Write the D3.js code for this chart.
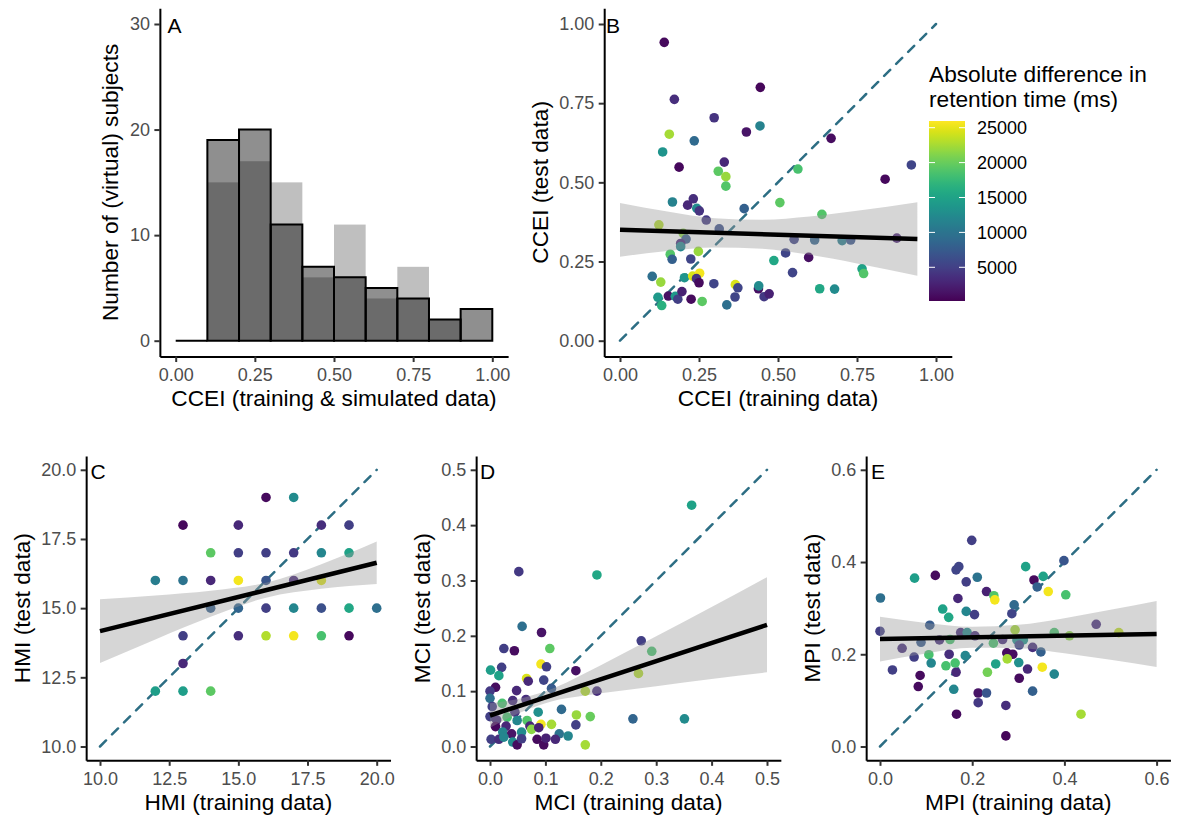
<!DOCTYPE html>
<html>
<head>
<meta charset="utf-8">
<script src="https://cdn.jsdelivr.net/npm/d3@7"></script>
<style>
  body { margin: 0; background: #fff; }
  svg text { font-family: "Liberation Sans", Arial, Helvetica, sans-serif; }
</style>
</head>
<body>
<svg id="fig" width="1177" height="818"></svg>
<script>
// ---------------- data ----------------
// Histogram (panel A): 0.1-wide CCEI bins
const binStarts = [0.0, 0.1, 0.2, 0.3, 0.4, 0.5, 0.6, 0.7, 0.8, 0.9];
const binWidth = 0.1;
const trainingCounts = [0, 19, 20, 11, 7, 6, 5, 4, 2, 3];
const simulatedCounts = [0, 15, 17, 15, 6, 11, 4, 7, 2, 0];

// Scatter panels: [training, test, absolute RT difference (ms)]
const cceiPoints = [
  [0.140,0.942,800],[0.444,0.800,600],[0.172,0.762,3500],[0.298,0.704,4000],
  [0.443,0.678,11500],[0.400,0.659,1500],[0.668,0.639,1000],[0.156,0.652,22500],
  [0.235,0.631,9000],[0.135,0.596,13500],[0.187,0.548,700],[0.330,0.564,3000],
  [0.311,0.535,19500],[0.335,0.518,22000],[0.335,0.488,19000],[0.563,0.542,18500],
  [0.922,0.555,5500],[0.839,0.510,700],[0.166,0.438,11500],[0.232,0.448,3500],
  [0.214,0.428,3000],[0.243,0.418,12500],[0.251,0.410,4000],[0.393,0.417,8000],
  [0.506,0.436,19500],[0.639,0.399,19000],[0.273,0.381,4500],[0.123,0.366,23000],
  [0.314,0.353,6500],[0.200,0.339,21500],[0.209,0.321,7500],[0.192,0.307,3000],
  [0.192,0.297,12000],[0.551,0.320,5500],[0.616,0.318,8500],[0.703,0.316,11000],
  [0.730,0.318,7000],[0.876,0.324,2500],[0.248,0.282,22000],[0.159,0.273,19000],
  [0.165,0.257,8000],[0.224,0.258,5500],[0.524,0.277,5500],[0.597,0.263,1200],
  [0.487,0.253,15500],[0.546,0.215,5500],[0.766,0.227,15000],[0.771,0.212,19000],
  [0.102,0.203,9500],[0.204,0.199,13500],[0.230,0.204,24500],[0.252,0.213,25500],
  [0.242,0.196,4000],[0.250,0.183,900],[0.129,0.185,22000],[0.297,0.180,5500],
  [0.365,0.177,24500],[0.373,0.167,5500],[0.438,0.164,1200],[0.439,0.173,12500],
  [0.456,0.139,4500],[0.472,0.148,2500],[0.632,0.164,15500],[0.679,0.163,12500],
  [0.120,0.137,14000],[0.153,0.141,1200],[0.175,0.140,14000],[0.183,0.131,5000],
  [0.196,0.155,2500],[0.225,0.131,800],[0.260,0.124,19500],[0.132,0.111,16500],
  [0.338,0.113,9500],[0.364,0.138,5500]
];

const hmiPoints = [
  [16,19,800],[17,19,12500],
  [13,18,700],[15,18,3000],[18,18,3500],[19,18,5000],
  [14,17,19500],[15,17,5000],[16,17,5000],[17,17,4500],[18,17,12000],[19,17,15000],
  [12,16,11000],[13,16,10000],[14,16,3000],[15,16,25500],[16,16,7000],[17,16,3000],[18,16,24500],
  [14,15,8000],[15,15,8500],[16,15,5000],[17,15,12000],[18,15,6500],[19,15,15500],[20,15,9500],
  [13,14,5000],[15,14,3500],[16,14,23000],[17,14,25500],[18,14,18500],[19,14,700],
  [13,13,3000],
  [12,12,14500],[13,12,14500],[14,12,19500]
];

const mciPoints = [
  [0.364,0.436,15000],[0.052,0.316,4500],[0.193,0.310,15500],[0.058,0.217,9500],
  [0.093,0.206,1500],[0.273,0.191,5000],[0.292,0.172,18500],[0.025,0.177,5000],
  [0.044,0.173,1000],[0.108,0.177,19500],[0.001,0.138,14500],[0.021,0.143,5000],
  [0.016,0.128,15000],[0.092,0.149,25500],[0.102,0.144,5000],[0.155,0.137,1200],
  [0.268,0.132,23000],[0.066,0.123,24500],[0.069,0.118,3000],[0.097,0.120,5500],
  [0.010,0.107,1000],[0.000,0.100,4500],[0.048,0.101,3000],[0.111,0.105,7500],
  [0.172,0.100,23000],[0.193,0.100,3500],[0.000,0.087,9500],[0.022,0.078,18500],
  [0.041,0.083,3500],[0.065,0.085,3500],[0.004,0.072,5000],[0.129,0.067,9000],
  [0.087,0.062,13000],[0.156,0.057,22000],[0.181,0.054,20000],[0.258,0.050,8500],
  [0.351,0.050,12500],[0.000,0.054,5000],[0.031,0.053,18500],[0.045,0.062,4000],
  [0.012,0.048,3500],[0.049,0.047,12000],[0.067,0.047,19000],[0.010,0.036,700],
  [0.029,0.037,3000],[0.072,0.037,3000],[0.075,0.031,21500],[0.092,0.040,25500],
  [0.111,0.040,22500],[0.155,0.039,5000],[0.088,0.034,2500],[0.023,0.026,12000],
  [0.039,0.023,1500],[0.057,0.026,12500],[0.125,0.023,10000],[0.141,0.019,12000],
  [0.002,0.013,5000],[0.016,0.013,3500],[0.025,0.017,12000],[0.041,0.008,12500],
  [0.049,0.003,900],[0.057,0.014,5000],[0.085,0.013,900],[0.097,0.003,900],
  [0.101,0.015,2500],[0.118,0.013,3000],[0.172,0.003,22500]
];

const mpiPoints = [
  [0.199,0.447,5000],[0.399,0.403,7000],[0.316,0.390,15000],[0.171,0.390,5500],
  [0.165,0.383,5500],[0.075,0.365,14500],[0.120,0.371,900],[0.211,0.367,10000],
  [0.187,0.357,5000],[0.354,0.369,15000],[0.334,0.361,800],[0.341,0.346,8000],
  [0.001,0.322,9500],[0.231,0.336,2500],[0.247,0.327,19000],[0.249,0.318,25500],
  [0.365,0.336,25500],[0.403,0.329,18500],[0.169,0.321,3000],[0.291,0.307,9000],
  [0.136,0.298,15000],[0.149,0.280,15500],[0.187,0.293,12000],[0.205,0.286,5000],
  [0.286,0.288,5500],[0.108,0.263,7500],[0.469,0.265,3500],[0.000,0.250,5000],
  [0.175,0.247,3500],[0.189,0.247,12500],[0.206,0.240,3500],[0.293,0.253,22500],
  [0.378,0.247,18500],[0.411,0.240,21500],[0.518,0.247,23500],[0.048,0.213,3500],
  [0.089,0.226,7500],[0.129,0.231,3500],[0.152,0.232,18500],[0.246,0.224,18500],
  [0.266,0.232,3500],[0.297,0.231,13000],[0.311,0.231,13500],[0.302,0.220,5500],
  [0.331,0.215,3500],[0.349,0.205,8000],[0.074,0.194,5000],[0.106,0.199,18500],
  [0.150,0.200,3500],[0.185,0.197,12000],[0.275,0.203,1000],[0.288,0.200,1000],
  [0.111,0.181,12000],[0.143,0.175,18500],[0.163,0.181,18500],[0.276,0.190,22500],
  [0.251,0.179,15000],[0.301,0.182,13000],[0.027,0.166,5000],[0.165,0.161,3000],
  [0.233,0.161,20500],[0.320,0.168,3000],[0.352,0.172,25500],[0.378,0.157,12000],
  [0.087,0.154,900],[0.302,0.148,900],[0.083,0.130,900],[0.160,0.124,12000],
  [0.213,0.116,1500],[0.231,0.116,7000],[0.331,0.120,8000],[0.213,0.095,4500],
  [0.273,0.089,3500],[0.166,0.070,900],[0.436,0.070,22500],[0.273,0.023,500]
];

// Linear fits: endpoints of the fitted line, and the 95% band [x, lower, upper]
const fitB = [[0, 0.350], [0.941, 0.321]];
const bandB = [[0,0.265,0.435],[0.15,0.283,0.408],[0.3,0.294,0.387],[0.45,0.290,0.382],
               [0.6,0.271,0.392],[0.75,0.244,0.410],[0.941,0.205,0.437]];
const fitC = [[10, 14.17], [20, 16.64]];
const bandC = [[10,13.02,15.32],[12,13.87,15.46],[14,14.69,15.63],[16,15.38,15.92],
               [18,15.70,16.59],[20,15.87,17.41]];
const fitD = [[0, 0.056], [0.5, 0.2198]];
const bandD = [[0,0.034,0.078],[0.05,0.059,0.086],[0.1,0.078,0.100],[0.2,0.096,0.147],
               [0.3,0.109,0.199],[0.4,0.122,0.252],[0.5,0.134,0.306]];
const fitE = [[0, 0.233], [0.6, 0.244]];
const bandE = [[0,0.1845,0.2815],[0.1,0.2017,0.2679],[0.2,0.2139,0.2595],[0.3,0.2132,0.2638],
               [0.4,0.2023,0.2783],[0.5,0.1879,0.2963],[0.6,0.1725,0.3155]];

// Identity reference lines
const identityB = [[0, 0], [1, 1]];
const identityC = [[10, 10], [20, 20]];
const identityD = [[0, 0], [0.5, 0.5]];
const identityE = [[0, 0], [0.6, 0.6]];

// Axis ticks
const ticksA_x = [0, 0.25, 0.5, 0.75, 1];
const ticksA_y = [0, 10, 20, 30];
const ticksB = [0, 0.25, 0.5, 0.75, 1];
const ticksC = [10, 12.5, 15, 17.5, 20];
const ticksD = [0, 0.1, 0.2, 0.3, 0.4, 0.5];
const ticksE = [0, 0.2, 0.4, 0.6];

// Colour scale (absolute RT difference)
const colorLimits = [170, 25960];
const colorTicks = [5000, 10000, 15000, 20000, 25000];

// ---------------- drawing ----------------
const svg = d3.select("#fig");
svg.append("rect").attr("width", 1177).attr("height", 818).attr("fill", "#fff");

const color = d3.scaleSequential(d3.interpolateViridis).domain(colorLimits);

const TICK_FONT = 18, TITLE_FONT = 22.7, TAG_FONT = 21;

// Panel frames: data limits and pixel positions of those limits (5% padding)
function frame(xLim, xPx, yLim, yPx) {
  const ex = 0.05 * (xLim[1] - xLim[0]), epx = 0.05 * (xPx[1] - xPx[0]);
  const ey = 0.05 * (yLim[1] - yLim[0]), epy = 0.05 * (yPx[1] - yPx[0]);
  const x = d3.scaleLinear().domain([xLim[0] - ex, xLim[1] + ex]).range([xPx[0] - epx, xPx[1] + epx]);
  const y = d3.scaleLinear().domain([yLim[0] - ey, yLim[1] + ey]).range([yPx[0] - epy, yPx[1] + epy]);
  return { x, y };
}

function drawAxes(p, xt, yt, xfmt, yfmt, xTitle, yTitle) {
  const { x, y } = p;
  const x0 = x.range()[0], x1 = x.range()[1];
  const y0 = y.range()[0], y1 = y.range()[1];

  const gx = svg.append("g").attr("transform", `translate(0,${y0})`)
    .call(d3.axisBottom(x).tickValues(xt).tickFormat(d3.format(xfmt))
      .tickSize(5.5).tickPadding(6.3).tickSizeOuter(0));
  const gy = svg.append("g").attr("transform", `translate(${x0},0)`)
    .call(d3.axisLeft(y).tickValues(yt).tickFormat(d3.format(yfmt))
      .tickSize(5.5).tickPadding(4.4).tickSizeOuter(0));

  [gx, gy].forEach(g => {
    g.attr("font-family", null).attr("font-size", null);
    g.select(".domain").attr("stroke", "#000").attr("stroke-width", 2);
    g.selectAll(".tick line").attr("stroke", "#333").attr("stroke-width", 2);
    g.selectAll(".tick text").attr("fill", "#4d4d4d").style("font-size", TICK_FONT + "px");
  });

  svg.append("text")
    .attr("x", (x0 + x1) / 2).attr("y", y0 + 49.8)
    .attr("text-anchor", "middle").style("font-size", TITLE_FONT + "px").attr("fill", "#000")
    .text(xTitle);

  const labelLeft = gy.node().getBBox().x + x0;
  const tx = labelLeft - 11.5, ty = (y0 + y1) / 2;
  svg.append("text")
    .attr("transform", `translate(${tx},${ty}) rotate(-90)`)
    .attr("text-anchor", "middle").style("font-size", TITLE_FONT + "px").attr("fill", "#000")
    .text(yTitle);
}

function tag(label, tx, ty) {
  svg.append("text").attr("x", tx).attr("y", ty)
    .style("font-size", TAG_FONT + "px").attr("fill", "#000").text(label);
}

function drawScatter(p, points, identity, fit, band) {
  const { x, y } = p;
  // identity line
  svg.append("line")
    .attr("x1", x(identity[0][0])).attr("y1", y(identity[0][1]))
    .attr("x2", x(identity[1][0])).attr("y2", y(identity[1][1]))
    .attr("stroke", "#2d6e84").attr("stroke-width", 2.5)
    .attr("stroke-dasharray", "8.5,8.5").attr("stroke-linecap", "round");
  // points
  svg.append("g").selectAll("circle").data(points).join("circle")
    .attr("cx", d => x(d[0])).attr("cy", d => y(d[1])).attr("r", 4.8)
    .attr("fill", d => color(d[2]));
  // confidence band
  const area = d3.area().curve(d3.curveMonotoneX)
    .x(d => x(d[0])).y0(d => y(d[1])).y1(d => y(d[2]));
  svg.append("path").attr("d", area(band))
    .attr("fill", "#999999").attr("fill-opacity", 0.4);
  // fitted line
  svg.append("line")
    .attr("x1", x(fit[0][0])).attr("y1", y(fit[0][1]))
    .attr("x2", x(fit[1][0])).attr("y2", y(fit[1][1]))
    .attr("stroke", "#000").attr("stroke-width", 4.5);
}

// ---- Panel A: histogram ----
const pA = frame([0, 1], [175.7, 492.3], [0, 30], [340.7, 24.0]);
const gA = svg.append("g");
gA.selectAll("rect.sim").data(binStarts).join("rect").attr("class", "sim")
  .attr("x", (d) => pA.x(d)).attr("width", d => pA.x(d + binWidth) - pA.x(d))
  .attr("y", (d, i) => pA.y(simulatedCounts[i]))
  .attr("height", (d, i) => pA.y(0) - pA.y(simulatedCounts[i]))
  .attr("fill", "#000").attr("fill-opacity", 0.25);
// outlined bars as closed paths so that empty bins still show a baseline
gA.selectAll("path.train").data(binStarts).join("path").attr("class", "train")
  .attr("d", (d, i) => {
    const xa = pA.x(d), xb = pA.x(d + binWidth);
    const ya = pA.y(0), yb = pA.y(trainingCounts[i]);
    return `M${xa},${ya}V${yb}H${xb}V${ya}Z`;
  })
  .attr("fill", "rgba(0,0,0,0.44)").attr("stroke", "#000").attr("stroke-width", 2);
drawAxes(pA, ticksA_x, ticksA_y, ".2f", "d",
  "CCEI (training & simulated data)", "Number of (virtual) subjects");
tag("A", 167.5, 32.5);

// ---- Panel B ----
const pB = frame([0, 1], [620, 936], [0, 1], [340.7, 24.0]);
drawScatter(pB, cceiPoints, identityB, fitB, bandB);
drawAxes(pB, ticksB, ticksB, ".2f", ".2f", "CCEI (training data)", "CCEI (test data)");
tag("B", 606, 32.5);

// ---- Panel C ----
const pC = frame([10, 20], [100, 376.7], [10, 20], [746.5, 469.8]);
drawScatter(pC, hmiPoints, identityC, fitC, bandC);
drawAxes(pC, ticksC, ticksC, ".1f", ".1f", "HMI (training data)", "HMI (test data)");
tag("C", 90.5, 478.5);

// ---- Panel D ----
const pD = frame([0, 0.5], [490, 767], [0, 0.5], [746.5, 469.8]);
drawScatter(pD, mciPoints, identityD, fitD, bandD);
drawAxes(pD, ticksD, ticksD, ".1f", ".1f", "MCI (training data)", "MCI (test data)");
tag("D", 480, 478.5);

// ---- Panel E ----
const pE = frame([0, 0.6], [880, 1156.6], [0, 0.6], [746.5, 469.8]);
drawScatter(pE, mpiPoints, identityE, fitE, bandE);
drawAxes(pE, ticksE, ticksE, ".1f", ".1f", "MPI (training data)", "MPI (test data)");
tag("E", 871, 478.5);

// ---- Colour bar legend ----
const barX = 929, barW = 36, barTop = 121, barBottom = 301;
const barScale = d3.scaleLinear().domain(colorLimits).range([barBottom, barTop]);
const defs = svg.append("defs");
const grad = defs.append("linearGradient").attr("id", "viridisBar")
  .attr("x1", 0).attr("y1", 1).attr("x2", 0).attr("y2", 0);
d3.range(0, 1.0001, 0.02).forEach(t => {
  grad.append("stop").attr("offset", t)
    .attr("stop-color", color(colorLimits[0] + t * (colorLimits[1] - colorLimits[0])));
});
const legend = svg.append("g");
legend.append("text").attr("x", barX).attr("y", 82.3)
  .style("font-size", TITLE_FONT + "px").attr("fill", "#000").text("Absolute difference in");
legend.append("text").attr("x", barX).attr("y", 106.7)
  .style("font-size", TITLE_FONT + "px").attr("fill", "#000").text("retention time (ms)");
legend.append("rect").attr("x", barX).attr("y", barTop)
  .attr("width", barW).attr("height", barBottom - barTop).attr("fill", "url(#viridisBar)");
colorTicks.forEach(v => {
  const ty = barScale(v);
  legend.append("line").attr("x1", barX).attr("x2", barX + 6).attr("y1", ty).attr("y2", ty)
    .attr("stroke", "#fff").attr("stroke-width", 1);
  legend.append("line").attr("x1", barX + barW - 6).attr("x2", barX + barW).attr("y1", ty).attr("y2", ty)
    .attr("stroke", "#fff").attr("stroke-width", 1);
  legend.append("text").attr("x", barX + barW + 12).attr("y", ty).attr("dy", "0.35em")
    .style("font-size", TICK_FONT + "px").attr("fill", "#000").text(v);
});
</script>
</body>
</html>
